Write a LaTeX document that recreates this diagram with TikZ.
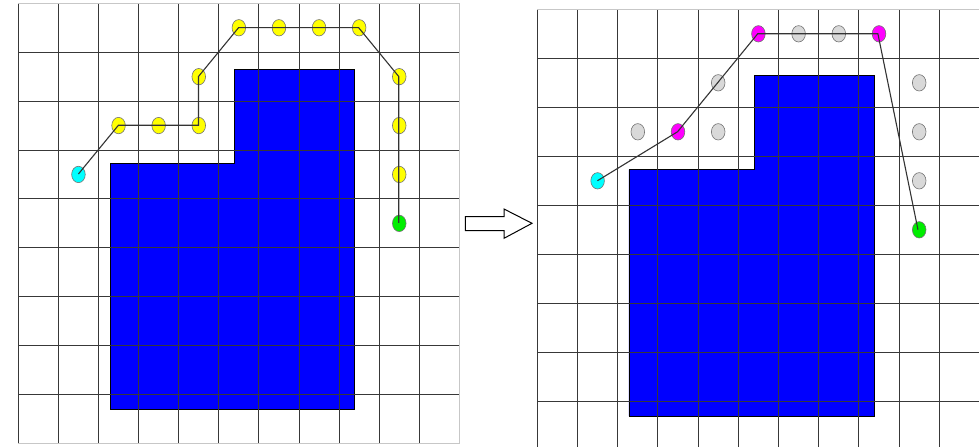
\documentclass[tikz,border=0pt]{standalone}
\usetikzlibrary{shapes.geometric}
\definecolor{startcyan}{RGB}{0,255,255}
\definecolor{goalgreen}{RGB}{0,238,0}
\definecolor{waypurple}{RGB}{255,0,255}
\definecolor{wayyellow}{RGB}{255,255,0}
\definecolor{blockblue}{RGB}{0,0,255}
\definecolor{prunegray}{RGB}{217,217,217}
\begin{document}
\begin{tikzpicture}[x=0.5pt, y=-0.5pt,
		cellline/.style={line width=0.5pt, color=black!78},
		edgeline/.style={line width=0.5pt, color=black!22},
		block/.style={fill=blockblue, draw=black, line width=0.4pt},
		dot/.style={ellipse, draw=black!55, line width=0.3pt, minimum width=6.8pt, minimum height=8.2pt, inner sep=0pt},
		startdot/.style={dot, fill=startcyan},
		goaldot/.style={dot, fill=goalgreen},
		waydot/.style={dot, fill=wayyellow},
		keptdot/.style={dot, fill=waypurple},
		prunedot/.style={dot, fill=prunegray},
		route/.style={line width=0.55pt, color=black!80}]
		%%%%% START %%%%%
		
		\useasboundingbox (0, 0) rectangle (979, 446);
		\clip (0, 0) rectangle (979, 446);
		
		%%%%% LEFT GRID %%%%%
		\begin{scope}[shift={(18.3, 3.3)}, xscale=40.1, yscale=48.9]
			\draw[block] (2.29, 3.27) -- (5.40, 3.27) -- (5.40, 1.35) -- (8.37, 1.35) -- (8.37, 8.30) -- (2.29, 8.30) -- cycle;
			
			\foreach \i in {0,...,10} \draw[cellline] (\i, 0) -- (\i, 9);
			\foreach \j in {1,...,8} \draw[cellline] (0, \j) -- (11, \j);
			\draw[edgeline] (0, 0) -- (11, 0) -- (11, 9) -- (0, 9);
			
			\node[startdot] (ls) at (1.5, 3.5) {};
			\foreach \n/\x/\y in {la/2.5/2.5, lb/3.5/2.5, lc/4.5/2.5, ld/4.5/1.5, le/5.5/0.5, lf/6.5/0.5, lg/7.5/0.5, lh/8.5/0.5, li/9.5/1.5, lj/9.5/2.5, lk/9.5/3.5}
				\node[waydot] (\n) at (\x, \y) {};
			\node[goaldot] (lt) at (9.5, 4.5) {};
			
			\draw[route] (ls.center) -- (la.center) -- (lb.center) -- (lc.center) -- (ld.center) -- (le.center) -- (lf.center)
				-- (lg.center) -- (lh.center) -- (li.center) -- (lj.center) -- (lk.center) -- (lt.center);
		\end{scope}
		
		%%%%% ARROW %%%%%
		\draw[line width=0.5pt] (465.3, 216.7) -- (504, 216.7) -- (504, 209) -- (532, 223.3) -- (504, 238.3) -- (504, 230.7) -- (465.3, 230.7) -- cycle;
		
		%%%%% RIGHT GRID %%%%%
		\begin{scope}[shift={(537.3, 9.3)}, xscale=40.2, yscale=49]
			\draw[block] (2.28, 3.27) -- (5.41, 3.27) -- (5.41, 1.355) -- (8.38, 1.355) -- (8.38, 8.30) -- (2.28, 8.30) -- cycle;
			
			\foreach \i in {0,...,10} \draw[cellline] (\i, 0) -- (\i, 9);
			\foreach \j in {1,...,8} \draw[cellline] (0, \j) -- (11, \j);
			\draw[edgeline] (0, 0) -- (11, 0);
			
			\foreach \n/\x/\y in {ra/2.5/2.5, rc/4.5/2.5, rd/4.5/1.5, rf/6.5/0.5, rg/7.5/0.5, ri/9.5/1.5, rj/9.5/2.5, rk/9.5/3.5}
				\node[prunedot] (\n) at (\x, \y) {};
			\node[startdot] (rs) at (1.5, 3.5) {};
			\node[keptdot] (rb) at (3.5, 2.5) {};
			\node[keptdot] (re) at (5.5, 0.5) {};
			\node[keptdot] (rh) at (8.5, 0.5) {};
			\node[goaldot] (rt) at (9.5, 4.5) {};
			
			\draw[route] (rs.center) -- (rb.center) -- (re.center) -- (rh.center) -- (rt.center);
		\end{scope}
		
		%%%%% END %%%%%
	\end{tikzpicture}
\end{document}
